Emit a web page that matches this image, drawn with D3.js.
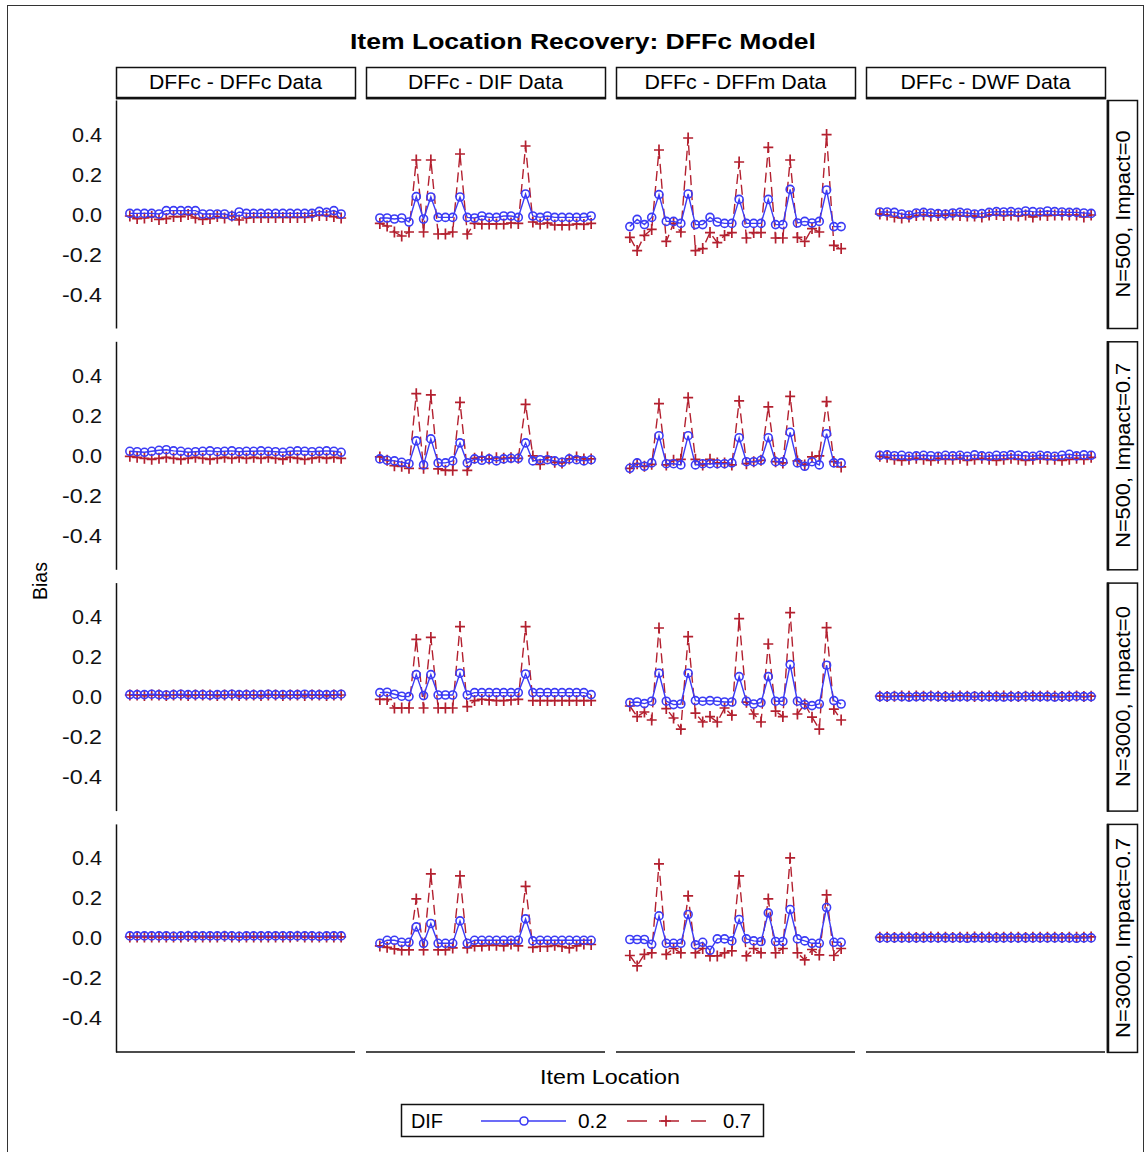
<!DOCTYPE html>
<html>
<head>
<meta charset="utf-8">
<script src="https://cdn.jsdelivr.net/npm/d3@7"></script>
<style>
  body { margin: 0; background: #fff; }
  svg { font-family: "Liberation Sans", Arial, sans-serif; }
</style>
</head>
<body>
<svg id="chart" width="1145" height="1152"></svg>
<script>
// facets
var columns = ['DFFc - DFFc Data', 'DFFc - DIF Data', 'DFFc - DFFm Data', 'DFFc - DWF Data'];
var rows = ['N=500, Impact=0', 'N=500, Impact=0.7', 'N=3000, Impact=0', 'N=3000, Impact=0.7'];
var yTicks = [0.4, 0.2, 0.0, -0.2, -0.4];
var items = [1,2,3,4,5,6,7,8,9,10,11,12,13,14,15,16,17,18,19,20,21,22,23,24,25,26,27,28,29,30];
var difLevels = ['0.2', '0.7'];

// N=500, Impact=0
var r1c1_02 = [0.003,0.003,0.003,0.003,0.0,0.017,0.017,0.017,0.017,0.017,0.0,0.0,0.0,0.0,-0.01,0.01,0.003,0.003,0.003,0.003,0.003,0.003,0.003,0.003,0.003,0.003,0.013,0.008,0.017,0.0];
var r1c1_07 = [-0.01,-0.023,-0.02,-0.013,-0.027,-0.023,-0.013,-0.013,-0.003,-0.02,-0.027,-0.023,-0.013,-0.02,-0.01,-0.03,-0.02,-0.017,-0.017,-0.017,-0.017,-0.017,-0.017,-0.017,-0.017,-0.01,-0.007,-0.007,-0.013,-0.02];
var r1c2_02 = [-0.02,-0.02,-0.025,-0.02,-0.04,0.087,-0.025,0.085,-0.017,-0.017,-0.017,0.085,-0.017,-0.02,-0.01,-0.017,-0.017,-0.01,-0.01,-0.017,0.1,-0.01,-0.017,-0.01,-0.017,-0.017,-0.017,-0.017,-0.017,-0.01];
var r1c2_07 = [-0.047,-0.06,-0.09,-0.11,-0.09,0.27,-0.09,0.27,-0.1,-0.1,-0.09,0.3,-0.1,-0.047,-0.05,-0.05,-0.05,-0.05,-0.045,-0.047,0.34,-0.04,-0.05,-0.045,-0.055,-0.055,-0.055,-0.05,-0.052,-0.047];
var r1c3_02 = [-0.063,-0.027,-0.053,-0.017,0.097,-0.037,-0.037,-0.047,0.1,-0.053,-0.053,-0.017,-0.04,-0.047,-0.047,0.073,-0.047,-0.047,-0.047,0.073,-0.053,-0.053,0.123,-0.045,-0.037,-0.045,-0.037,0.12,-0.063,-0.063];
var r1c3_07 = [-0.117,-0.183,-0.107,-0.077,0.32,-0.137,-0.047,-0.09,0.38,-0.183,-0.173,-0.093,-0.143,-0.107,-0.093,0.26,-0.12,-0.093,-0.093,0.333,-0.12,-0.12,0.27,-0.117,-0.137,-0.073,-0.09,0.397,-0.157,-0.173];
var r1c4_02 = [0.01,0.01,0.008,0.0,-0.005,0.005,0.008,0.005,0.002,0.0,0.005,0.008,0.005,0.0,0.002,0.008,0.012,0.01,0.012,0.008,0.015,0.012,0.01,0.015,0.012,0.01,0.008,0.008,0.005,0.003];
var r1c4_07 = [0.0,-0.005,-0.015,-0.02,-0.015,-0.008,-0.005,-0.01,-0.008,-0.005,-0.005,-0.008,-0.01,-0.01,-0.015,-0.005,-0.003,-0.008,-0.005,-0.01,-0.005,-0.015,-0.005,-0.008,-0.005,-0.005,-0.005,-0.005,-0.015,-0.005];

// N=500, Impact=0.7
var r2c1_02 = [0.02,0.018,0.015,0.02,0.025,0.028,0.022,0.02,0.015,0.018,0.02,0.022,0.018,0.02,0.022,0.018,0.02,0.02,0.022,0.02,0.018,0.015,0.02,0.022,0.02,0.018,0.02,0.022,0.02,0.015];
var r2c1_07 = [-0.005,-0.01,-0.015,-0.02,-0.015,-0.01,-0.015,-0.02,-0.015,-0.01,-0.015,-0.02,-0.015,-0.01,-0.015,-0.01,-0.015,-0.01,-0.015,-0.01,-0.015,-0.02,-0.01,-0.015,-0.02,-0.015,-0.01,-0.015,-0.01,-0.015];
var r2c2_02 = [-0.018,-0.025,-0.028,-0.035,-0.042,0.072,-0.048,0.082,-0.038,-0.038,-0.028,0.062,-0.038,-0.018,-0.025,-0.018,-0.028,-0.018,-0.015,-0.015,0.062,-0.028,-0.022,-0.022,-0.028,-0.035,-0.018,-0.022,-0.028,-0.022];
var r2c2_07 = [-0.008,-0.025,-0.052,-0.055,-0.065,0.308,-0.065,0.302,-0.068,-0.075,-0.075,0.265,-0.075,-0.015,-0.008,-0.018,-0.012,-0.015,-0.012,-0.015,0.255,-0.003,-0.045,-0.008,-0.035,-0.038,-0.018,-0.008,-0.018,-0.018];
var r2c3_02 = [-0.065,-0.038,-0.055,-0.038,0.098,-0.042,-0.042,-0.048,0.098,-0.048,-0.042,-0.042,-0.042,-0.042,-0.038,0.088,-0.032,-0.032,-0.025,0.088,-0.032,-0.032,0.115,-0.038,-0.055,-0.032,-0.048,0.108,-0.038,-0.038];
var r2c3_07 = [-0.065,-0.042,-0.055,-0.045,0.258,-0.048,-0.025,-0.02,0.288,-0.02,-0.048,-0.02,-0.038,-0.038,-0.048,0.272,-0.042,-0.032,-0.025,0.242,-0.032,-0.038,0.295,-0.028,-0.048,-0.008,-0.003,0.268,-0.032,-0.058];
var r2c4_02 = [0.0,0.002,-0.002,0.0,-0.005,-0.003,0.0,-0.002,-0.005,0.0,-0.003,0.0,-0.005,0.002,-0.003,-0.005,0.0,-0.002,0.002,0.0,-0.003,-0.005,0.0,-0.003,-0.005,0.0,0.005,-0.003,0.002,0.0];
var r2c4_07 = [-0.005,-0.01,-0.02,-0.025,-0.02,-0.015,-0.02,-0.025,-0.015,-0.02,-0.02,-0.015,-0.025,-0.02,-0.015,-0.02,-0.025,-0.02,-0.015,-0.02,-0.025,-0.02,-0.015,-0.02,-0.02,-0.025,-0.02,-0.015,-0.02,-0.01];

// N=3000, Impact=0
var r3c1_02 = [0.01,0.01,0.01,0.012,0.01,0.008,0.01,0.012,0.01,0.01,0.01,0.008,0.01,0.01,0.012,0.01,0.01,0.01,0.01,0.012,0.01,0.01,0.01,0.01,0.012,0.01,0.01,0.01,0.01,0.012];
var r3c1_07 = [0.008,0.008,0.005,0.008,0.008,0.005,0.008,0.008,0.005,0.008,0.008,0.008,0.005,0.008,0.008,0.005,0.008,0.008,0.005,0.008,0.008,0.005,0.008,0.008,0.005,0.008,0.008,0.005,0.008,0.008];
var r3c2_02 = [0.02,0.022,0.012,0.002,0.0,0.11,0.005,0.11,0.008,0.008,0.008,0.117,0.008,0.02,0.02,0.02,0.02,0.02,0.02,0.02,0.113,0.02,0.02,0.02,0.02,0.02,0.02,0.02,0.02,0.01];
var r3c2_07 = [-0.014,-0.014,-0.057,-0.057,-0.057,0.286,-0.057,0.296,-0.057,-0.057,-0.057,0.35,-0.05,-0.02,-0.014,-0.017,-0.02,-0.02,-0.017,-0.014,0.35,-0.02,-0.02,-0.02,-0.02,-0.02,-0.02,-0.02,-0.02,-0.02];
var r3c3_02 = [-0.03,-0.027,-0.035,-0.023,0.117,-0.023,-0.04,-0.037,0.117,-0.02,-0.023,-0.02,-0.023,-0.027,-0.027,0.1,-0.023,-0.037,-0.03,0.1,-0.023,-0.023,0.16,-0.023,-0.04,-0.045,-0.037,0.157,-0.02,-0.037];
var r3c3_07 = [-0.047,-0.1,-0.077,-0.117,0.343,-0.06,-0.107,-0.163,0.3,-0.083,-0.127,-0.1,-0.127,-0.057,-0.093,0.39,-0.028,-0.087,-0.127,0.263,-0.073,-0.1,0.42,-0.087,-0.037,-0.103,-0.163,0.345,-0.063,-0.117];
var r3c4_02 = [0.0,0.0,0.002,0.0,-0.002,0.0,0.0,0.002,0.0,0.0,-0.002,0.0,0.0,0.002,0.0,0.0,0.0,-0.002,0.0,0.0,0.002,0.0,0.0,0.0,-0.002,0.0,0.0,0.002,0.0,0.0];
var r3c4_07 = [0.002,0.0,0.002,0.003,0.002,0.003,0.002,0.003,0.002,0.0,0.002,0.003,0.002,0.0,0.002,0.003,0.002,0.003,0.002,0.0,0.002,0.003,0.002,0.003,0.002,0.0,0.002,0.003,0.0,0.002];

// N=3000, Impact=0.7
var r4c1_02 = [0.01,0.01,0.01,0.01,0.01,0.01,0.008,0.01,0.01,0.01,0.01,0.01,0.01,0.01,0.01,0.008,0.01,0.01,0.01,0.01,0.01,0.01,0.01,0.01,0.01,0.01,0.008,0.01,0.01,0.01];
var r4c1_07 = [0.005,0.005,0.005,0.005,0.005,0.005,0.005,0.005,0.008,0.005,0.005,0.005,0.005,0.008,0.005,0.005,0.005,0.005,0.005,0.005,0.005,0.005,0.005,0.008,0.005,0.005,0.005,0.005,0.005,0.005];
var r4c2_02 = [-0.027,-0.012,-0.012,-0.022,-0.022,0.055,-0.027,0.072,-0.027,-0.027,-0.027,0.085,-0.027,-0.012,-0.012,-0.012,-0.012,-0.012,-0.012,-0.012,0.095,-0.015,-0.012,-0.012,-0.012,-0.012,-0.012,-0.012,-0.012,-0.012];
var r4c2_07 = [-0.04,-0.047,-0.055,-0.06,-0.06,0.195,-0.06,0.32,-0.06,-0.06,-0.05,0.31,-0.05,-0.04,-0.04,-0.037,-0.037,-0.04,-0.03,-0.04,0.258,-0.047,-0.043,-0.043,-0.037,-0.043,-0.05,-0.04,-0.03,-0.033];
var r4c3_02 = [-0.008,-0.008,-0.008,-0.032,0.11,-0.027,-0.027,-0.027,0.117,-0.035,-0.022,-0.062,-0.005,-0.005,-0.015,0.092,-0.005,-0.015,-0.018,0.125,-0.018,-0.018,0.142,-0.005,-0.015,-0.027,-0.027,0.152,-0.022,-0.022];
var r4c3_07 = [-0.088,-0.14,-0.082,-0.075,0.37,-0.082,-0.053,-0.075,0.21,-0.075,-0.053,-0.09,-0.09,-0.075,-0.065,0.31,-0.09,-0.053,-0.075,0.195,-0.075,-0.053,0.4,-0.075,-0.11,-0.058,-0.085,0.215,-0.088,-0.053];
var r4c4_02 = [0.0,0.0,0.0,0.0,0.0,0.0,0.0,0.0,0.0,0.0,0.0,0.0,-0.002,0.0,0.0,0.0,0.0,0.0,0.0,0.0,0.0,0.0,0.0,0.0,0.0,0.0,0.0,-0.002,0.0,0.0];
var r4c4_07 = [0.003,0.003,0.002,0.003,0.003,0.002,0.003,0.005,0.003,0.003,0.002,0.003,0.003,0.005,0.003,0.003,0.002,0.003,0.003,0.003,0.002,0.003,0.003,0.003,0.003,0.002,0.003,0.003,0.003,0.005];

var panelData = [
  [[r1c1_02, r1c1_07], [r1c2_02, r1c2_07], [r1c3_02, r1c3_07], [r1c4_02, r1c4_07]],
  [[r2c1_02, r2c1_07], [r2c2_02, r2c2_07], [r2c3_02, r2c3_07], [r2c4_02, r2c4_07]],
  [[r3c1_02, r3c1_07], [r3c2_02, r3c2_07], [r3c3_02, r3c3_07], [r3c4_02, r3c4_07]],
  [[r4c1_02, r4c1_07], [r4c2_02, r4c2_07], [r4c3_02, r4c3_07], [r4c4_02, r4c4_07]]
];

var blue = '#3b3bf5';
var red = '#b3202f';

var svg = d3.select('#chart');

// squeeze / stretch a label to the width it has in the original
function fit(sel, w) {
  sel.attr('textLength', w).attr('lengthAdjust', 'spacingAndGlyphs');
  return sel;
}

// outer frame
svg.append('rect')
  .attr('x', 7.5).attr('y', 5.5)
  .attr('width', 1136).attr('height', 1160)
  .attr('fill', 'none').attr('stroke', '#333').attr('stroke-width', 1);

fit(svg.append('text')
  .attr('x', 583).attr('y', 49)
  .attr('text-anchor', 'middle')
  .style('font-size', '22px').style('font-weight', 'bold')
  .text('Item Location Recovery: DFFc Model'), 466);

var panelLeft = 116, panelW = 239, colStep = 250;
var panelTop = 100, panelH = 228, rowStep = 241.3;

var x = d3.scaleLinear().domain([-0.9, 31.9]).range([0, panelW]);
var y = d3.scaleLinear().domain([-0.57, 0.57]).range([panelH, 0]);

// column strips
var colLabelW = [173, 155, 182, 170];
columns.forEach(function(name, c) {
  var g = svg.append('g').attr('transform', 'translate(' + (panelLeft + c * colStep) + ',67)');
  g.append('rect').attr('x', 0.5).attr('y', 0.5).attr('width', panelW).attr('height', 31)
    .attr('fill', '#fff').attr('stroke', '#111').attr('stroke-width', 1.5);
  g.append('line').attr('x1', 0).attr('x2', panelW + 1).attr('y1', 31).attr('y2', 31)
    .attr('stroke', '#111').attr('stroke-width', 2.5);
  fit(g.append('text').attr('x', panelW / 2).attr('y', 22)
    .attr('text-anchor', 'middle').style('font-size', '20px').text(name), colLabelW[c]);
});

// row strips
var rowLabelW = [167, 185, 181, 200];
rows.forEach(function(name, r) {
  var top = panelTop + r * rowStep;
  var g = svg.append('g').attr('transform', 'translate(1107,' + top + ')');
  g.append('rect').attr('x', 0.5).attr('y', 0.5).attr('width', 30).attr('height', panelH)
    .attr('fill', '#fff').attr('stroke', '#111').attr('stroke-width', 1.5);
  g.append('line').attr('x1', 1).attr('x2', 1).attr('y1', 0).attr('y2', panelH + 1)
    .attr('stroke', '#111').attr('stroke-width', 2.5);
  fit(g.append('text')
    .attr('transform', 'translate(23,' + (panelH / 2) + ') rotate(-90)')
    .attr('text-anchor', 'middle').style('font-size', '20px').text(name), rowLabelW[r]);
});

var line = d3.line()
  .x(function(d, i) { return x(items[i]); })
  .y(function(d) { return y(d); });

panelData.forEach(function(rowSet, r) {
  var top = panelTop + r * rowStep;

  // y axis on first column
  var yAxis = d3.axisLeft(y).tickValues(yTicks).tickSize(0).tickPadding(14)
    .tickFormat(d3.format('.1f'));
  var ga = svg.append('g').attr('transform', 'translate(' + panelLeft + ',' + top + ')').call(yAxis);
  ga.select('.domain').attr('stroke', '#111').attr('stroke-width', 1.5);
  ga.selectAll('text').style('font-size', '20px').style('font-family', '"Liberation Sans", Arial, sans-serif')
    .attr('fill', '#111').attr('dy', '0.35em')
    .text(function(d) { return d3.format('.1f')(d).replace('−', '-'); })
    .each(function(d) { fit(d3.select(this), d < 0 ? 40 : 30); });

  rowSet.forEach(function(series, c) {
    var g = svg.append('g').attr('transform', 'translate(' + (panelLeft + c * colStep) + ',' + top + ')');

    if (r === panelData.length - 1) {
      g.append('line').attr('x1', 0).attr('x2', panelW).attr('y1', panelH).attr('y2', panelH)
        .attr('stroke', '#111').attr('stroke-width', 1.5);
    }

    // DIF = 0.7 (red dashed, plus)
    g.append('path').datum(series[1]).attr('d', line)
      .attr('fill', 'none').attr('stroke', red).attr('stroke-width', 1.4)
      .attr('stroke-dasharray', '10,5');
    g.selectAll('.plus').data(series[1]).enter().append('path')
      .attr('class', 'plus')
      .attr('transform', function(d, i) { return 'translate(' + x(items[i]) + ',' + y(d) + ')'; })
      .attr('d', 'M-5,0H5M0,-5.5V5.5')
      .attr('stroke', red).attr('stroke-width', 1.7).attr('fill', 'none');

    // DIF = 0.2 (blue solid, circle)
    g.append('path').datum(series[0]).attr('d', line)
      .attr('fill', 'none').attr('stroke', blue).attr('stroke-width', 1.4);
    g.selectAll('.circ').data(series[0]).enter().append('circle')
      .attr('class', 'circ')
      .attr('cx', function(d, i) { return x(items[i]); })
      .attr('cy', function(d) { return y(d); })
      .attr('r', 4)
      .attr('fill', 'none').attr('stroke', blue).attr('stroke-width', 1.6);
  });
});

// axis titles
fit(svg.append('text')
  .attr('transform', 'translate(47,581) rotate(-90)')
  .attr('text-anchor', 'middle').style('font-size', '20px').text('Bias'), 38);
fit(svg.append('text')
  .attr('x', 610).attr('y', 1084)
  .attr('text-anchor', 'middle').style('font-size', '20px').text('Item Location'), 140);

// legend
var lg = svg.append('g').attr('transform', 'translate(401,1104)');
lg.append('rect').attr('x', 0.5).attr('y', 0.5).attr('width', 362).attr('height', 32)
  .attr('fill', '#fff').attr('stroke', '#111').attr('stroke-width', 1.5);
fit(lg.append('text').attr('x', 10).attr('y', 24).style('font-size', '20px').text('DIF'), 32);
lg.append('line').attr('x1', 80).attr('x2', 165).attr('y1', 17).attr('y2', 17)
  .attr('stroke', blue).attr('stroke-width', 1.4);
lg.append('circle').attr('cx', 123).attr('cy', 17).attr('r', 4)
  .attr('fill', '#fff').attr('stroke', blue).attr('stroke-width', 1.6);
fit(lg.append('text').attr('x', 177).attr('y', 24).style('font-size', '20px').text(difLevels[0]), 29);
lg.append('line').attr('x1', 226).attr('x2', 305).attr('y1', 17).attr('y2', 17)
  .attr('stroke', red).attr('stroke-width', 1.4).attr('stroke-dasharray', '20,12');
lg.append('path').attr('transform', 'translate(265,17)')
  .attr('d', 'M-5,0H5M0,-5.5V5.5')
  .attr('stroke', red).attr('stroke-width', 1.7);
fit(lg.append('text').attr('x', 322).attr('y', 24).style('font-size', '20px').text(difLevels[1]), 28);
</script>
</body>
</html>
